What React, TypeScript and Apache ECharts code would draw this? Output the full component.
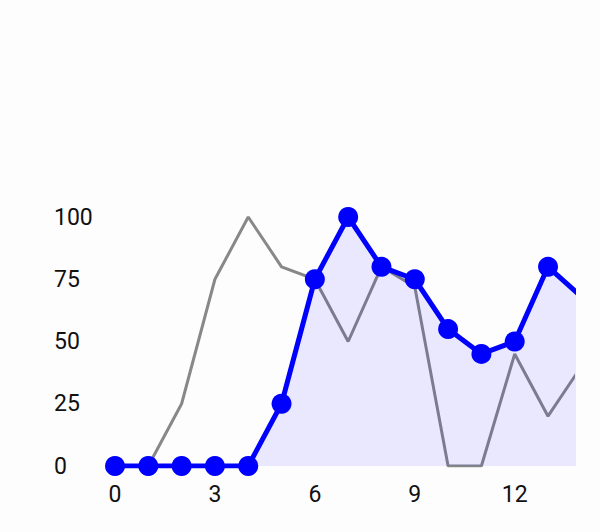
import React, { useEffect, useRef } from "react";
import * as echarts from "echarts";

const xValues = [0, 1, 2, 3, 4, 5, 6, 7, 8, 9, 10, 11, 12, 13, 14];
const blueValues = [0, 0, 0, 0, 0, 25, 75, 100, 80, 75, 55, 45, 50, 80, 68];
const grayValues = [0, 0, 25, 75, 100, 80, 75, 50, 80, 72, 0, 0, 45, 20, 40];
const yTicks = [0, 25, 50, 75, 100];

export default function App() {
  const ref = useRef<HTMLDivElement>(null);
  useEffect(() => {
    if (!ref.current) return;
    const chart = echarts.init(ref.current, undefined, { renderer: "svg" });
    chart.setOption({
      animation: false,
      backgroundColor: "#fefdfe",
      grid: { left: 115, right: 27, top: 217, bottom: 66, containLabel: false },
      xAxis: {
        type: "value",
        min: 0,
        max: 13.75,
        interval: 3,
        axisLine: { show: false },
        axisTick: { show: false },
        splitLine: { show: false },
        axisLabel: {
          fontFamily: "Roboto",
          fontSize: 23,
          color: "#111111",
          margin: 17,
          showMaxLabel: false,
        },
      },
      yAxis: {
        type: "value",
        min: yTicks[0],
        max: yTicks[yTicks.length - 1],
        interval: 25,
        axisLine: { show: false },
        axisTick: { show: false },
        splitLine: { show: false },
        axisLabel: {
          fontFamily: "Roboto",
          fontSize: 23,
          color: "#111111",
          align: "left",
          margin: 61,
        },
      },
      series: [
        {
          type: "line",
          data: xValues.map((x, i) => [x, grayValues[i]]),
          showSymbol: false,
          symbol: "none",
          lineStyle: { color: "#888888", width: 3 },
          itemStyle: { color: "#888888" },
          z: 1,
        },
        {
          type: "line",
          data: xValues.map((x, i) => [x, blueValues[i]]),
          symbol: "circle",
          symbolSize: 20,
          lineStyle: { color: "#0000ff", width: 5 },
          itemStyle: { color: "#0000ff" },
          areaStyle: { color: "rgba(0,0,255,0.12)" },
          z: 2,
        },
      ],
    });
    return () => chart.dispose();
  }, []);
  return <div ref={ref} style={{ width: 600, height: 532, position: "absolute", left: 0, top: 0 }} />;
}
